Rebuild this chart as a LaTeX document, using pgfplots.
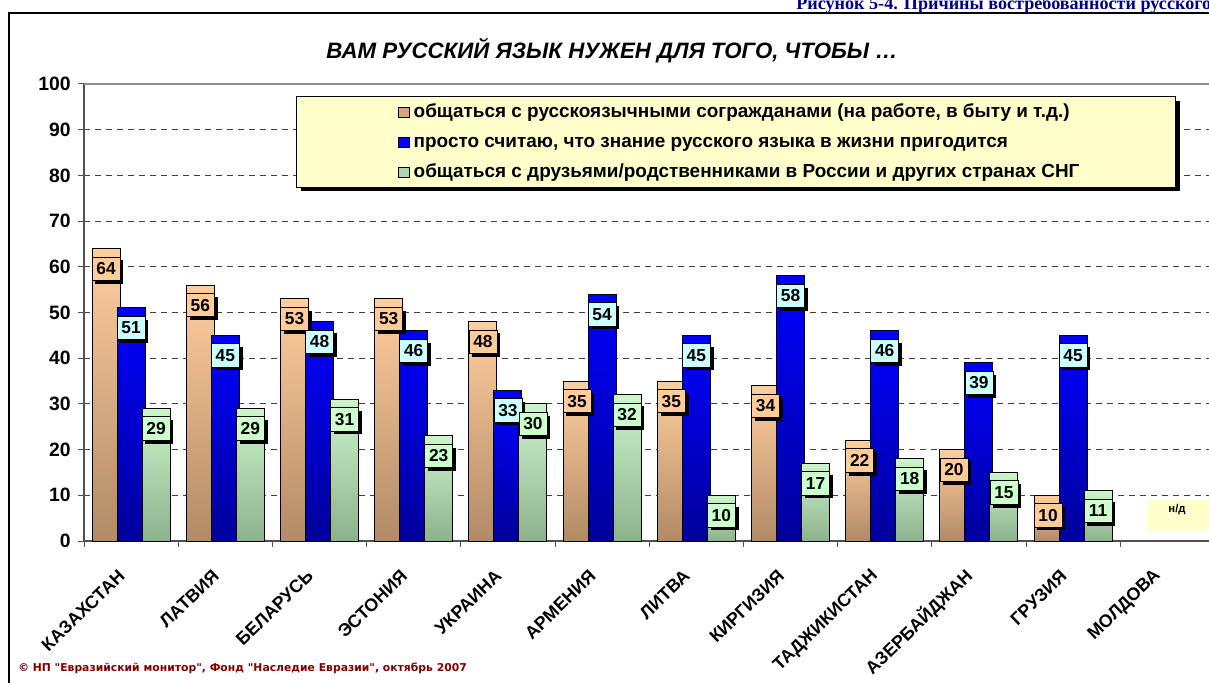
\documentclass[border=0pt]{standalone}
\usepackage{fontspec}
\setmainfont{Liberation Sans}
\newfontfamily\timesf{Liberation Serif}
\newfontfamily\tahomaf{DejaVu Sans}
\usepackage{pgfplots}
\usepackage{pgfplotstable}
\pgfplotsset{compat=1.18}
\usetikzlibrary{shadows}

\definecolor{orTop}{RGB}{255,206,158}
\definecolor{orBot}{RGB}{178,138,102}
\definecolor{blTop}{RGB}{0,0,255}
\definecolor{blBot}{RGB}{0,0,155}
\definecolor{grTop}{RGB}{204,245,204}
\definecolor{grBot}{RGB}{140,178,140}
\definecolor{orLab}{RGB}{255,204,153}
\definecolor{blLab}{RGB}{204,255,255}
\definecolor{grLab}{RGB}{204,255,204}
\definecolor{orLeg}{RGB}{215,165,125}
\definecolor{grLeg}{RGB}{175,215,175}
\definecolor{legY}{RGB}{255,255,204}
\definecolor{navyT}{RGB}{0,0,128}
\definecolor{maroonT}{RGB}{128,0,0}
\definecolor{axgray}{RGB}{80,80,80}

\pgfplotstableread{
x a b c
0 64 51 29
1 56 45 29
2 53 48 31
3 53 46 23
4 48 33 30
5 35 54 32
6 35 45 10
7 34 58 17
8 22 46 18
9 20 39 15
10 10 45 11
}\datatable

\begin{document}
\begin{tikzpicture}
\useasboundingbox (0,0) rectangle (906.75pt,511.5pt);
% outer frame
\draw[line width=1.5pt] (6.75pt,-5pt) -- (6.75pt,501.75pt) -- (930pt,501.75pt);
% top title (cut at the right edge)
\node[anchor=base west, inner sep=0pt, text=navyT,
      font=\timesf\bfseries\fontsize{13.6}{15}\selectfont] at (597pt,504.5pt)
      {Рисунок 5-4. Причины востребованности русского языка};
% chart title
\node[font=\bfseries\itshape\fontsize{16.7}{19}\selectfont] at (459pt,473.25pt)
      {ВАМ РУССКИЙ ЯЗЫК НУЖЕН ДЛЯ ТОГО, ЧТОБЫ …};
% footer
\node[anchor=west, inner sep=0pt, text=maroonT,
      font=\tahomaf\bfseries\fontsize{8.1}{10}\selectfont] at (13.5pt,10.5pt)
      {© НП "Евразийский монитор", Фонд "Наследие Евразии", октябрь 2007};

\begin{axis}[
  at={(63pt,105.75pt)}, anchor=south west,
  scale only axis, width=847.8pt, height=342.75pt,
  xmin=-0.5, xmax=11.5, ymin=0, ymax=100,
  clip=false,
  axis lines*=left,
  axis line style={axgray, line width=1.1pt},
  tick align=outside,
  major tick length=4.5pt,
  tick style={axgray, line width=0.75pt},
  /pgf/number format/assume math mode=true,
  ytick={0,10,...,90},
  extra y ticks={100},
  extra y tick style={grid=major, major grid style={solid, black!45, line width=1pt}},
  ymajorgrids,
  major grid style={black!75, line width=0.7pt, dash pattern=on 4.5pt off 3.75pt},
  yticklabel style={font=\bfseries\fontsize{14.5}{16}\selectfont, xshift=-2pt},
  xtick={-0.5,0.5,...,11.5},
  xticklabels={},
  extra x ticks={0,1,...,11},
  extra x tick labels={КАЗАХСТАН,ЛАТВИЯ,БЕЛАРУСЬ,ЭСТОНИЯ,УКРАИНА,АРМЕНИЯ,ЛИТВА,КИРГИЗИЯ,ТАДЖИКИСТАН,АЗЕРБАЙДЖАН,ГРУЗИЯ,МОЛДОВА},
  extra x tick style={major tick length=0pt, grid=none,
     xticklabel style={font=\bfseries\fontsize{13.4}{15}\selectfont, inner sep=0pt, xshift=-7pt, yshift=-24pt, rotate=44, anchor=east}},
  every node near coord/.append style={anchor=north, yshift=-6pt, draw=black, line width=0.6pt,
     minimum width=21pt, minimum height=17.5pt, inner sep=0pt, text=black,
     font=\bfseries\fontsize{13}{15}\selectfont,
     drop shadow={shadow xshift=2.5pt, shadow yshift=-2.5pt, opacity=1, fill=black}},
  legend style={at={(axis cs:2.833,95.84)}, anchor=north west, draw=none, fill=none,
     inner sep=0pt, row sep=9pt, column sep=3pt,
     font=\bfseries\fontsize{14.2}{16}\selectfont,
     nodes={inner sep=0pt, text height=10.5pt, text depth=3pt}},
  legend cell align=left,
]
% bars, one path each so that each bar carries its own gradient
\pgfplotsinvokeforeach{0,...,10}{
  \addplot[ybar, forget plot, bar width=21pt, bar shift=-18.75pt, draw=black, line width=0.75pt,
     top color=orTop, bottom color=orBot,
     restrict expr to domain={\coordindex}{#1:#1}]
     table[x=x, y=a] {\datatable};
}
\pgfplotsinvokeforeach{0,...,10}{
  \addplot[ybar, forget plot, bar width=21pt, bar shift=0pt, draw=black, line width=0.75pt,
     top color=blTop, bottom color=blBot,
     restrict expr to domain={\coordindex}{#1:#1}]
     table[x=x, y=b] {\datatable};
}
\pgfplotsinvokeforeach{0,...,10}{
  \addplot[ybar, forget plot, bar width=21pt, bar shift=18.75pt, draw=black, line width=0.75pt,
     top color=grTop, bottom color=grBot,
     restrict expr to domain={\coordindex}{#1:#1}]
     table[x=x, y=c] {\datatable};
}
% data labels, drawn above all bars
\addplot[draw=none, mark=none, forget plot, nodes near coords,
   every node near coord/.append style={fill=orLab, xshift=-18.75pt}]
   table[x=x, y=a] {\datatable};
\addplot[draw=none, mark=none, forget plot, nodes near coords,
   every node near coord/.append style={fill=blLab}]
   table[x=x, y=b] {\datatable};
\addplot[draw=none, mark=none, forget plot, nodes near coords,
   every node near coord/.append style={fill=grLab, xshift=18.75pt}]
   table[x=x, y=c] {\datatable};
% legend box
\draw[fill=legY, draw=black, line width=0.75pt,
      drop shadow={shadow xshift=3pt, shadow yshift=-3pt, opacity=1, fill=black}]
      (axis cs:1.761,97.16) rectangle (axis cs:11.092,77.46);
% no-data box for Moldova
\fill[legY] (axis cs:10.785,8.97) rectangle (axis cs:11.485,2.19);
\node[font=\bfseries\fontsize{8.5}{10}\selectfont] at (axis cs:11.103,6.78) {н/д};
% legend
\addlegendimage{legend image code/.code={\draw[fill=orLeg, draw=black, line width=0.6pt] (0pt,-4pt) rectangle (8pt,4pt);}}
\addlegendentry{общаться с русскоязычными согражданами (на работе, в быту и т.д.)}
\addlegendimage{legend image code/.code={\draw[fill=blTop, draw=black, line width=0.6pt] (0pt,-4pt) rectangle (8pt,4pt);}}
\addlegendentry{просто считаю, что знание русского языка в жизни пригодится}
\addlegendimage{legend image code/.code={\draw[fill=grLeg, draw=black, line width=0.6pt] (0pt,-4pt) rectangle (8pt,4pt);}}
\addlegendentry{общаться с друзьями/родственниками в России и других странах СНГ}
\end{axis}
\end{tikzpicture}
\end{document}
